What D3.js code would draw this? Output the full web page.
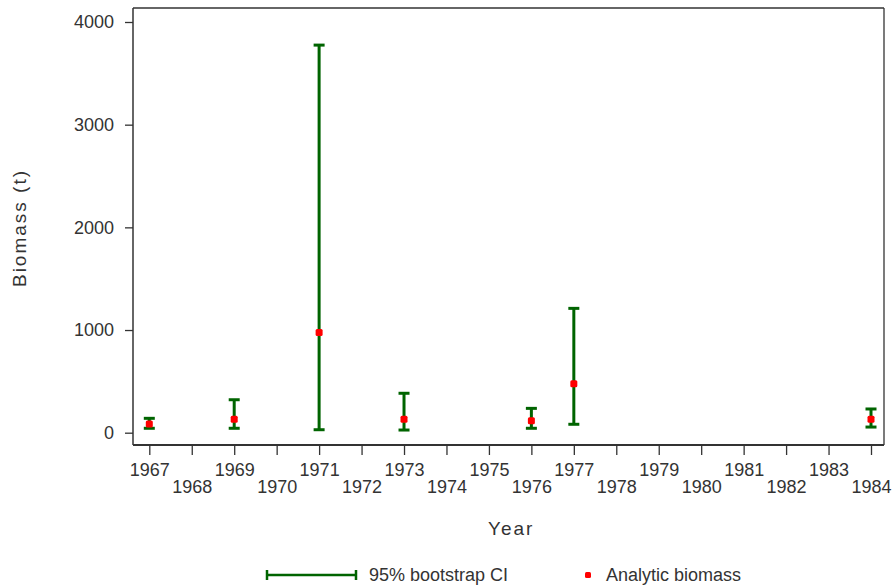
<!DOCTYPE html>
<html>
<head>
<meta charset="utf-8">
<script src="https://cdn.jsdelivr.net/npm/d3@7"></script>
<style>
  body { margin: 0; background: #fff; }
  text { font-family: "Liberation Sans", Arial, sans-serif; fill: #333; }
</style>
</head>
<body>
<div id="chart"></div>
<script>
// data
const years = [1967, 1969, 1971, 1973, 1976, 1977, 1984];
const biomass = [85, 130, 977, 130, 117, 477, 130];
const ciLow = [43, 43, 29, 26, 43, 82, 55];
const ciHigh = [140, 321, 3775, 384, 237, 1211, 231];
const yTicks = [0, 1000, 2000, 3000, 4000];
const xTicks = d3.range(1967, 1985);

const W = 892, H = 586;
const margin = {top: 8, right: 8, bottom: 141, left: 133},
      width = W - margin.left - margin.right,
      height = H - margin.top - margin.bottom;

const svgRoot = d3.select("#chart").append("svg")
    .attr("width", W)
    .attr("height", H);

const svg = svgRoot.append("g")
    .attr("transform", `translate(${margin.left},${margin.top})`);

const x = d3.scaleLinear()
    .domain([1967, 1984])
    .range([16.3, 738]);

const y = d3.scaleLinear()
    .domain([0, 4000])
    .range([424.7, 14]);

// frame
svg.append("line").attr("x1", 0).attr("x2", width).attr("y1", 0).attr("y2", 0)
    .attr("stroke", "#333").attr("stroke-width", 1.3);
svg.append("line").attr("x1", width).attr("x2", width).attr("y1", 0).attr("y2", height)
    .attr("stroke", "#333").attr("stroke-width", 1.3);

// y axis
const yAxis = svg.append("g")
    .call(d3.axisLeft(y).tickValues(yTicks).tickFormat(d3.format("d"))
        .tickSize(8).tickPadding(11).tickSizeOuter(0));
yAxis.select(".domain").attr("d", `M0,0V${height}`).attr("stroke", "#333").attr("stroke-width", 1.5);
yAxis.selectAll(".tick line").attr("stroke", "#333").attr("stroke-width", 1.3);
yAxis.selectAll("text").style("font-size", "18px").attr("fill", "#333");

// x axis
const xAxis = svg.append("g")
    .attr("transform", `translate(0,${height})`)
    .call(d3.axisBottom(x).tickValues(xTicks).tickFormat(d3.format("d")).tickSize(10).tickSizeOuter(0));
xAxis.select(".domain").attr("d", `M0,0H${width}`).attr("stroke", "#333").attr("stroke-width", 2);
xAxis.selectAll(".tick line").attr("stroke", "#333").attr("stroke-width", 1.3);
xAxis.selectAll("text")
    .style("font-size", "18px")
    .attr("fill", "#333")
    .attr("dy", null)
    .attr("y", (d, i) => i % 2 === 0 ? 31 : 48);

// axis titles
svg.append("text")
    .attr("x", x(1975.5) + 1)
    .attr("y", 535 - margin.top)
    .attr("text-anchor", "middle")
    .style("font-size", "19px")
    .style("letter-spacing", "2px")
    .text("Year");

svgRoot.append("text")
    .attr("transform", `translate(26,${228}) rotate(-90)`)
    .attr("text-anchor", "middle")
    .style("font-size", "19px")
    .style("letter-spacing", "2px")
    .text("Biomass (t)");

// error bars
const green = "#006400";
const capW = 11;
const bars = svg.append("g");
years.forEach((yr, i) => {
    const cx = x(yr);
    bars.append("line")
        .attr("x1", cx).attr("x2", cx)
        .attr("y1", y(ciLow[i])).attr("y2", y(ciHigh[i]))
        .attr("stroke", green).attr("stroke-width", 3);
    [ciLow[i], ciHigh[i]].forEach(v => {
        bars.append("line")
            .attr("x1", cx - capW / 2).attr("x2", cx + capW / 2)
            .attr("y1", y(v)).attr("y2", y(v))
            .attr("stroke", green).attr("stroke-width", 3);
    });
});

// points
svg.append("g").selectAll("rect")
    .data(years)
    .join("rect")
    .attr("x", d => x(d) - 3.5)
    .attr("y", (d, i) => y(biomass[i]) - 3.5)
    .attr("width", 7)
    .attr("height", 7)
    .attr("rx", 1.5)
    .attr("fill", "red");

// legend
const lg = svgRoot.append("g");
lg.append("line").attr("x1", 267).attr("x2", 356).attr("y1", 575).attr("y2", 575)
    .attr("stroke", green).attr("stroke-width", 2.5);
[267, 356].forEach(lx => {
    lg.append("line").attr("x1", lx).attr("x2", lx).attr("y1", 570).attr("y2", 580)
        .attr("stroke", green).attr("stroke-width", 2.5);
});
lg.append("text").attr("x", 369).attr("y", 581).style("font-size", "18px").text("95% bootstrap CI");
lg.append("rect").attr("x", 585).attr("y", 572).attr("width", 6).attr("height", 6)
    .attr("rx", 1.5).attr("fill", "red");
lg.append("text").attr("x", 606).attr("y", 581).style("font-size", "18px").text("Analytic biomass");
</script>
</body>
</html>
